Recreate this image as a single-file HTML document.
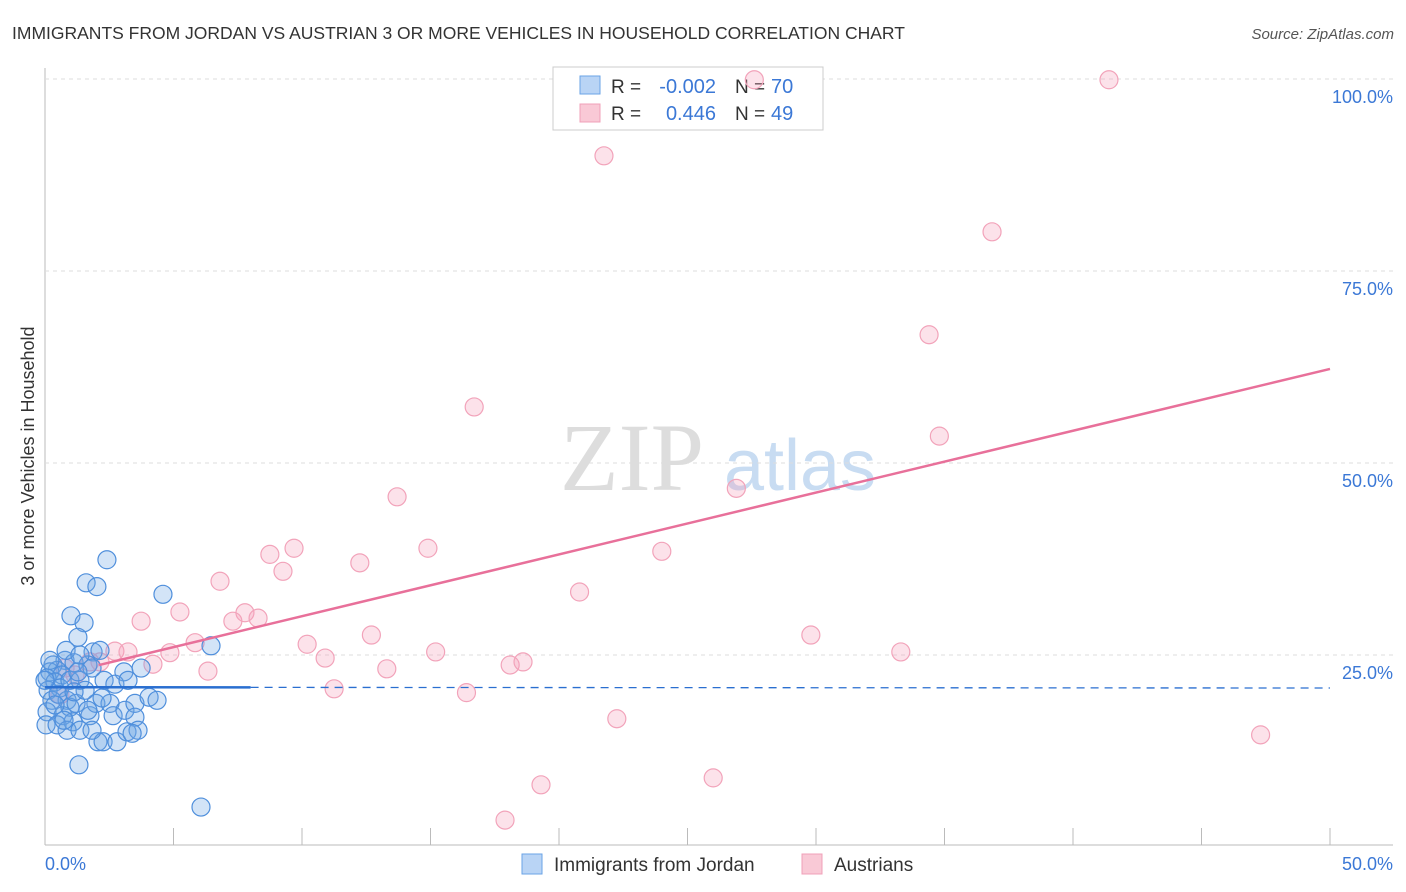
<!DOCTYPE html>
<html><head><meta charset="utf-8"><style>
body{margin:0;background:#fff;font-family:"Liberation Sans",sans-serif}
</style></head><body>
<svg id="chart" width="1406" height="892" xmlns="http://www.w3.org/2000/svg" style="display:block">
<text x="12" y="39" font-size="17.5" fill="#333">IMMIGRANTS FROM JORDAN VS AUSTRIAN 3 OR MORE VEHICLES IN HOUSEHOLD CORRELATION CHART</text>
<text x="1394" y="39" font-size="15" fill="#555" text-anchor="end" font-style="italic">Source: ZipAtlas.com</text>
<text transform="translate(34,456) rotate(-90)" font-size="18" fill="#333" text-anchor="middle">3 or more Vehicles in Household</text>
<g><text x="632" y="490" font-size="96" fill="#ddd" text-anchor="middle" font-family="Liberation Serif,serif">ZIP</text><text x="800" y="490" font-size="72" fill="#c8dcf2" text-anchor="middle">atlas</text></g>
<g id="grid"></g>
<g>
<rect x="553" y="67" width="270" height="63" fill="#fff" stroke="#ccc"/>
<rect x="580" y="76" width="20" height="18" fill="#b9d4f5" stroke="#6aa3e6"/>
<rect x="580" y="104" width="20" height="18" fill="#f9c9d6" stroke="#f0a0b8"/>
<text x="611" y="93" font-size="19" fill="#333">R =</text>
<text x="716" y="93" font-size="20" fill="#3b78d6" text-anchor="end">-0.002</text>
<text x="735" y="93" font-size="19" fill="#333">N =</text>
<text x="771" y="93" font-size="20" fill="#3b78d6">70</text>
<text x="611" y="120" font-size="19" fill="#333">R =</text>
<text x="716" y="120" font-size="20" fill="#3b78d6" text-anchor="end">0.446</text>
<text x="735" y="120" font-size="19" fill="#333">N =</text>
<text x="771" y="120" font-size="20" fill="#3b78d6">49</text>
</g>
<g id="marks"></g>
<g>
<rect x="522" y="854" width="20" height="20" fill="#b9d4f5" stroke="#6aa3e6"/>
<text x="554" y="871" font-size="19" fill="#333">Immigrants from Jordan</text>
<rect x="802" y="854" width="20" height="20" fill="#f9c9d6" stroke="#f0a0b8"/>
<text x="834" y="871" font-size="19" fill="#333">Austrians</text>
</g>
</svg>
<script>
const jordanX=[2.41,1.60,2.02,4.59,1.01,1.52,1.28,6.46,1.87,0.78,1.13,1.67,0.31,0.47,0.19,0.66,1.83,3.07,3.74,0.08,0.39,0.58,0.97,1.36,1.28,0.12,0.27,0.86,0.08,0.70,0.97,1.21,1.75,1.98,2.53,2.65,3.11,3.50,3.50,4.05,4.36,0.04,0.47,1.09,0.86,1.36,2.06,2.26,2.80,3.19,3.62,1.32,6.07,2.30,2.72,3.23,2.22,1.56,0.51,0.82,1.36,2.14,0,0.19,0.74,1.83,3.39,1.67,0.39,1.13];
const jordanY=[37.4,34.4,33.9,32.9,30.1,29.2,27.3,26.2,25.4,24.3,24.0,23.7,23.7,23.0,22.8,22.4,23.3,22.8,23.3,22.0,21.5,20.7,21.7,21.7,22.8,20.4,19.1,19.1,17.6,17.1,18.2,18.7,17.1,18.7,18.7,17.1,17.8,18.7,16.9,19.5,19.1,15.9,15.9,16.3,15.2,15.2,13.7,13.7,13.7,15.0,15.2,10.7,5.2,21.7,21.2,21.7,19.4,20.4,19.9,25.6,25.0,25.6,21.7,24.3,16.5,15.2,14.8,17.8,18.5,20.2];
const austX=[41.4,27.6,21.75,36.85,34.4,16.7,34.8,26.9,13.7,8.75,9.69,14.9,24.0,12.25,9.26,6.81,20.8,7.78,5.25,3.74,7.31,8.29,12.7,29.8,10.2,5.84,2.72,3.23,4.86,15.2,33.3,10.9,4.20,2.14,6.34,18.1,18.6,13.3,11.25,16.4,22.25,47.3,26.0,19.3,17.9,0.78,1.17,1.75,0.58];
const austY=[99.9,99.9,90.0,80.1,66.7,57.3,53.5,46.7,45.6,38.1,38.9,38.9,38.5,37.0,35.9,34.6,33.2,30.5,30.6,29.4,29.4,29.8,27.6,27.6,26.4,26.6,25.5,25.4,25.3,25.4,25.4,24.6,23.8,24.1,22.9,23.7,24.1,23.2,20.6,20.1,16.7,14.6,9.0,8.1,3.5,23.3,22.4,24.1,19.8];
const yTicks=[25,50,75,100];
const yTickLabels=["25.0%","50.0%","75.0%","100.0%"];
const xTicks=[0,5,10,15,20,25,30,35,40,45,50];
const jordanFit=[20.8,-0.002,0,8];
const austFit=[22.0,0.805,2.1];
const sx=v=>45+v*1285/50, sy=v=>847-v*7.68;
const NS="http://www.w3.org/2000/svg";
function mk(t,a,p){const e=document.createElementNS(NS,t);for(const k in a)e.setAttribute(k,a[k]);p.appendChild(e);return e;}
const grid=document.getElementById('grid'), marks=document.getElementById('marks');
mk('line',{x1:45,y1:68,x2:45,y2:845,stroke:'#bbb'},grid);
mk('line',{x1:45,y1:845,x2:1393,y2:845,stroke:'#bbb'},grid);
yTicks.forEach((t,i)=>{
 const g=mk('line',{x1:45,y1:sy(t),x2:1393,y2:sy(t),stroke:'#ddd','stroke-dasharray':'4,4'},grid);
 
 
 const l=mk('text',{x:1393,y:sy(t)+24,'font-size':18,fill:'#3b78d6','text-anchor':'end'},grid);l.textContent=yTickLabels[i];
 
 
});
xTicks.forEach(t=>{const e=mk('line',{x1:sx(t),y1:828,x2:sx(t),y2:845,stroke:'#bbb'},grid);
 
 });
let l0=mk('text',{x:45,y:870,'font-size':18,fill:'#3b78d6'},grid);l0.textContent='0.0%';


let l1=mk('text',{x:1393,y:870,'font-size':18,fill:'#3b78d6','text-anchor':'end'},grid);l1.textContent='50.0%';


austX.forEach((x,i)=>{const c=mk('circle',{cx:sx(x),cy:sy(austY[i]),r:9,fill:'rgba(245,160,185,0.3)',stroke:'#f2a3ba','stroke-width':1.2},marks);
 
 });
jordanX.forEach((x,i)=>{const c=mk('circle',{cx:sx(x),cy:sy(jordanY[i]),r:9,fill:'rgba(110,165,230,0.3)',stroke:'#4f8fdc','stroke-width':1.2},marks);
 
 });
const jf=x=>jordanFit[0]+jordanFit[1]*x;
let a=mk('line',{x1:sx(jordanFit[2]),y1:sy(jf(jordanFit[2])),x2:sx(jordanFit[3]),y2:sy(jf(jordanFit[3])),stroke:'#2a6fd0','stroke-width':2.5},marks);


let b=mk('line',{x1:sx(jordanFit[3]),y1:sy(jf(jordanFit[3])),x2:sx(50),y2:sy(jf(50)),stroke:'#2a6fd0','stroke-width':1.3,'stroke-dasharray':'8,6'},marks);


const af=x=>austFit[0]+austFit[1]*x;
let c=mk('line',{x1:sx(austFit[2]),y1:sy(af(austFit[2])),x2:sx(50),y2:sy(af(50)),stroke:'#e8709a','stroke-width':2.5},marks);


</script>
</body></html>
